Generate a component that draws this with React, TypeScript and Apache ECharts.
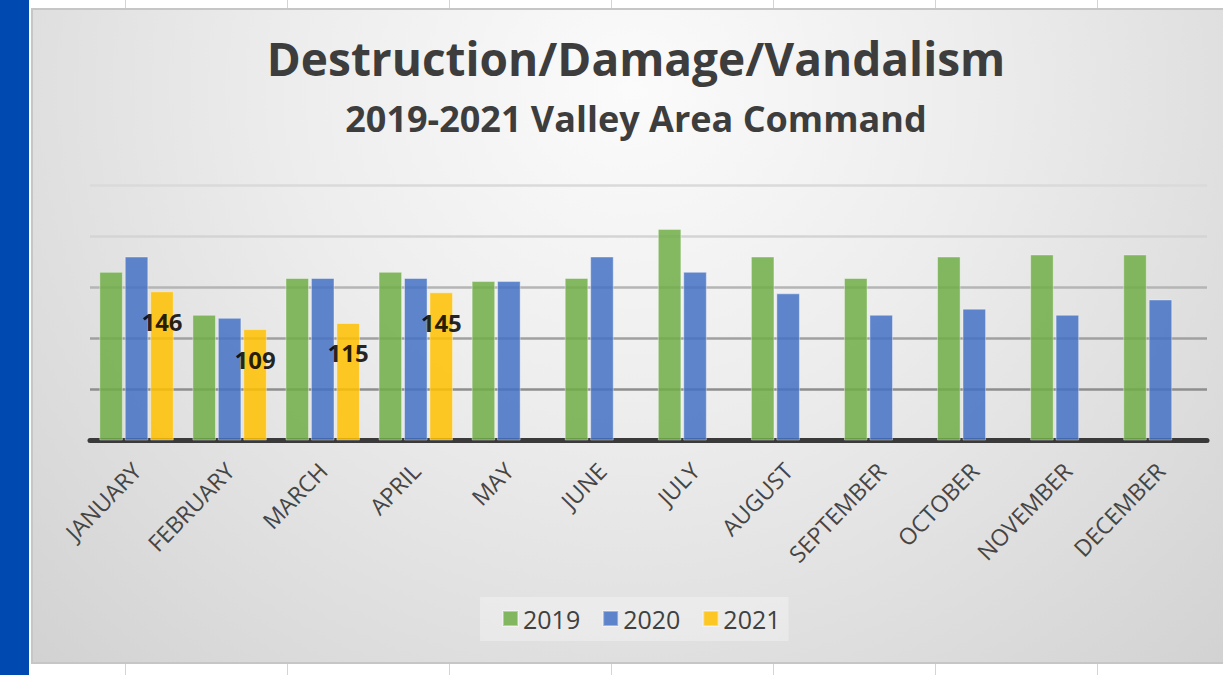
import React, { useEffect, useRef } from "react";
import * as echarts from "echarts";

const categories = ["JANUARY", "FEBRUARY", "MARCH", "APRIL", "MAY", "JUNE", "JULY", "AUGUST", "SEPTEMBER", "OCTOBER", "NOVEMBER", "DECEMBER"];
const seriesNames = ["2019", "2020", "2021"];
const values2019 = [165, 123, 159, 165, 156, 159, 207, 180, 159, 180, 182, 182];
const values2020 = [180, 120, 159, 159, 156, 180, 165, 144, 123, 129, 123, 138];
const values2021 = [146, 109, 115, 145];
const titleText = "Destruction/Damage/Vandalism";
const subtitleText = "2019-2021 Valley Area Command";

const colors = ["#70AD47", "#4472C4", "#FFC000"];
const FONT = "'Open Sans', 'Noto Sans', sans-serif";

export default function App() {
  const ref = useRef<HTMLDivElement>(null);

  useEffect(() => {
    if (!ref.current) return;
    const chart = echarts.init(ref.current, undefined, { renderer: "svg" });
    const barBase = {
      type: "bar",
      barGap: "8%",
      barCategoryGap: "20%",
    };
    const dataSets = [values2019, values2020, values2021];
    chart.setOption({
      animation: false,
      backgroundColor: "transparent",
      textStyle: { fontFamily: FONT },
      title: [
        {
          text: titleText,
          left: 636,
          top: 35,
          textAlign: "center",
          padding: 0,
          textStyle: { fontFamily: FONT, fontSize: 46, fontWeight: "bold", color: "#3d3d3d" },
        },
        {
          text: subtitleText,
          left: 636,
          top: 100,
          textAlign: "center",
          padding: 0,
          textStyle: { fontFamily: FONT, fontSize: 36, fontWeight: "bold", color: "#3d3d3d" },
        },
      ],
      legend: {
        data: seriesNames,
        left: 480,
        top: 597,
        padding: [9, 8, 10, 22],
        itemWidth: 15,
        itemHeight: 15,
        itemGap: 22,
        icon: "rect",
        backgroundColor: "rgba(255,255,255,0.3)",
        textStyle: { fontFamily: FONT, fontSize: 25, color: "#404040" },
      },
      grid: { left: 90, right: 16, top: 185, bottom: 234.5, containLabel: false },
      xAxis: {
        type: "category",
        data: categories,
        axisLine: { show: true, lineStyle: { color: "#3a3a3a", width: 5 } },
        axisTick: { show: false },
        axisLabel: {
          rotate: 46,
          margin: 26,
          interval: 0,
          fontFamily: FONT,
          fontSize: 23,
          color: "#454545",
        },
      },
      yAxis: {
        type: "value",
        min: 0,
        max: 250,
        interval: 50,
        axisLabel: { show: false },
        axisLine: { show: false },
        axisTick: { show: false },
        splitLine: {
          show: true,
          lineStyle: {
            width: 2.5,
            color: ["#8e8e8e", "#8e8e8e", "#a0a0a0", "#b5b5b5", "#d4d4d4", "#dadada"],
          },
        },
      },
      series: seriesNames.map((name, i) => ({
        ...barBase,
        name,
        data: dataSets[i],
        itemStyle: {
          color: colors[i],
          opacity: 0.85,
          borderColor: "rgba(255,255,255,0.45)",
          borderWidth: 1,
        },
        label:
          i === 2
            ? {
                show: true,
                position: "insideTop",
                distance: 18,
                formatter: "{c}",
                fontFamily: FONT,
                fontSize: 24,
                fontWeight: "bold",
                color: "#000000",
              }
            : { show: false },
      })),
    });
    return () => chart.dispose();
  }, []);

  const vLines = [125, 287, 449, 611, 773, 935, 1097];
  return (
    <div style={{ position: "fixed", left: 0, top: 0, width: 1223, height: 675, background: "#ffffff", overflow: "hidden" }}>
      {vLines.map((x) => (
        <div key={x} style={{ position: "absolute", left: x, top: 0, width: 1, height: 675, background: "#d4d4d4" }} />
      ))}
      <div style={{ position: "absolute", left: 0, top: 0, width: 29, height: 675, background: "#0049B0" }} />
      <div
        style={{
          position: "absolute",
          left: 31,
          top: 8,
          width: 1200,
          height: 656,
          boxSizing: "border-box",
          border: "2px solid #c6c6c6",
          background: "radial-gradient(ellipse at 50% 12%, #fbfbfb 0%, #ededed 40%, #d2d2d2 100%)",
        }}
      />
      <div ref={ref} style={{ position: "absolute", left: 0, top: 0, width: 1223, height: 675 }} />
    </div>
  );
}
